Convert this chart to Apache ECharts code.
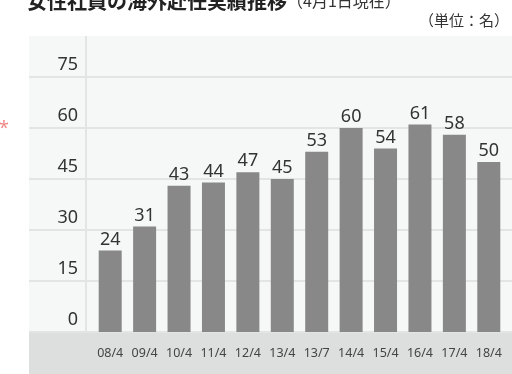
<!DOCTYPE html>
<html>
<head>
<meta charset="utf-8">
<style>
  html, body { margin: 0; padding: 0; background: #ffffff; }
  #chart { width: 512px; height: 374px; }
</style>
<script src="https://cdn.jsdelivr.net/npm/echarts@6/dist/echarts.min.js"></script>
</head>
<body>
<div id="chart"></div>
<script>
// Women posted overseas, headcount as of April 1 each year
const categories = ['08/4', '09/4', '10/4', '11/4', '12/4', '13/4', '13/7', '14/4', '15/4', '16/4', '17/4', '18/4'];
const headcount = [24, 31, 43, 44, 47, 45, 53, 60, 54, 61, 58, 50];
const yTicks = { min: 0, max: 75, interval: 15 };

const FONT = '"Noto Sans", "Noto Sans CJK JP", sans-serif';
const CJK = '"Noto Sans CJK JP", "Noto Sans", sans-serif';

const chart = echarts.init(document.getElementById('chart'), null, { renderer: 'canvas' });

chart.setOption({
  animation: false,
  backgroundColor: '#ffffff',
  graphic: [
    // plot panel and category band
    { type: 'rect', z: -10, shape: { x: 29, y: 36, width: 483, height: 297 }, style: { fill: '#f6f7f7' } },
    { type: 'rect', z: -9, shape: { x: 29, y: 333, width: 483, height: 41 }, style: { fill: '#dddede' } },
    { type: 'line', z: -8, shape: { x1: 86, y1: 36, x2: 86, y2: 333 }, style: { stroke: '#e3e4e4', lineWidth: 2 } },
    // heading, partly above the top edge
    {
      type: 'text', x: 27, y: 11,
      style: {
        text: '{b|女性社員の海外赴任実績推移}{s|（4月1日現在）}',
        textVerticalAlign: 'bottom',
        rich: {
          b: { fontFamily: CJK, fontSize: 20, fontWeight: 'bold', fill: '#222222' },
          s: { fontFamily: CJK, fontSize: 16, fontWeight: 'normal', fill: '#333333' }
        }
      }
    },
    { type: 'text', right: 3, top: 13, style: { text: '（単位：名）', font: '15px ' + CJK, fill: '#333333' } },
    { type: 'text', left: -1, top: 120, style: { text: '*', font: '18px ' + FONT, fill: '#f08a8a' } }
  ],
  grid: [
    { left: 93, right: 6, top: 77, bottom: 42, containLabel: false },
    { left: 29, right: 0, top: 77, bottom: 42, containLabel: false }
  ],
  xAxis: [
    {
      type: 'category',
      gridIndex: 0,
      data: categories,
      axisLine: { show: false },
      axisTick: { show: false },
      axisLabel: { margin: 15, fontFamily: FONT, fontSize: 12.5, color: '#444444' }
    },
    { type: 'value', gridIndex: 1, show: false, min: 0, max: 1 }
  ],
  yAxis: [
    {
      type: 'value',
      gridIndex: 0,
      min: yTicks.min,
      max: yTicks.max,
      interval: yTicks.interval,
      axisLine: { show: false },
      axisTick: { show: false },
      axisLabel: { show: false },
      splitLine: { show: false }
    },
    {
      type: 'value',
      gridIndex: 1,
      min: yTicks.min,
      max: yTicks.max,
      interval: yTicks.interval,
      axisLine: { show: false },
      axisTick: { show: false },
      axisLabel: {
        margin: -49,
        align: 'right',
        verticalAlign: 'bottom',
        padding: [0, 0, 3, 0],
        fontFamily: FONT,
        fontSize: 18,
        color: '#333333'
      },
      splitLine: { show: true, lineStyle: { color: '#e3e4e4', width: 2 } }
    }
  ],
  series: [
    {
      type: 'bar',
      xAxisIndex: 0,
      yAxisIndex: 0,
      data: headcount,
      barWidth: 23,
      itemStyle: { color: '#888888' },
      label: {
        show: true,
        position: 'top',
        distance: 2,
        fontFamily: FONT,
        fontSize: 18,
        color: '#333333'
      },
      z: 5
    }
  ]
});
</script>
</body>
</html>
